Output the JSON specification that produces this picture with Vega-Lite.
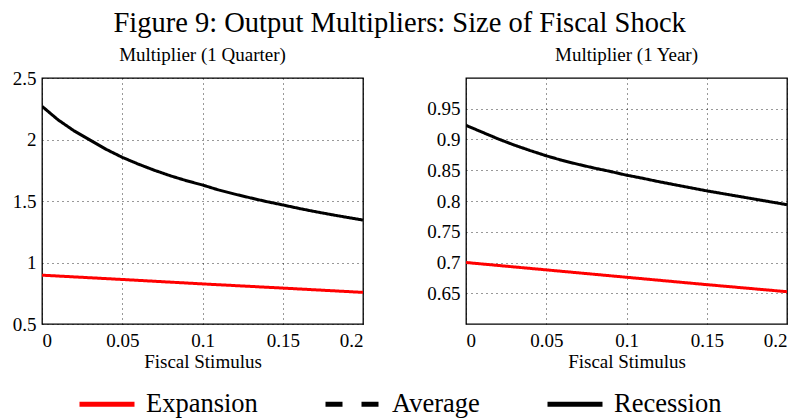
{
  "$schema": "https://vega.github.io/schema/vega-lite/v6.json",
  "padding": {"left": 11, "top": 8, "right": 0, "bottom": 0},
  "background": "white",
  "title": {"text": "Figure 9: Output Multipliers: Size of Fiscal Shock", "anchor": "middle", "fontSize": 28.5, "fontWeight": "normal", "font": "Liberation Serif", "color": "black", "offset": 8},
  "datasets": {
    "quarter": [
      {"regime": "Recession", "x": 0.00, "y": 2.27},
      {"regime": "Recession", "x": 0.01, "y": 2.16},
      {"regime": "Recession", "x": 0.02, "y": 2.07},
      {"regime": "Recession", "x": 0.03, "y": 1.995},
      {"regime": "Recession", "x": 0.04, "y": 1.92},
      {"regime": "Recession", "x": 0.05, "y": 1.855},
      {"regime": "Recession", "x": 0.06, "y": 1.80},
      {"regime": "Recession", "x": 0.07, "y": 1.75},
      {"regime": "Recession", "x": 0.08, "y": 1.705},
      {"regime": "Recession", "x": 0.09, "y": 1.665},
      {"regime": "Recession", "x": 0.10, "y": 1.63},
      {"regime": "Recession", "x": 0.11, "y": 1.59},
      {"regime": "Recession", "x": 0.12, "y": 1.556},
      {"regime": "Recession", "x": 0.13, "y": 1.525},
      {"regime": "Recession", "x": 0.14, "y": 1.495},
      {"regime": "Recession", "x": 0.15, "y": 1.468},
      {"regime": "Recession", "x": 0.16, "y": 1.44},
      {"regime": "Recession", "x": 0.17, "y": 1.414},
      {"regime": "Recession", "x": 0.18, "y": 1.39},
      {"regime": "Recession", "x": 0.19, "y": 1.367},
      {"regime": "Recession", "x": 0.20, "y": 1.345},
      {"regime": "Expansion", "x": 0.00, "y": 0.897},
      {"regime": "Expansion", "x": 0.05, "y": 0.862},
      {"regime": "Expansion", "x": 0.10, "y": 0.826},
      {"regime": "Expansion", "x": 0.15, "y": 0.792},
      {"regime": "Expansion", "x": 0.20, "y": 0.757}
    ],
    "year": [
      {"regime": "Recession", "x": 0.00, "y": 0.923},
      {"regime": "Recession", "x": 0.01, "y": 0.912},
      {"regime": "Recession", "x": 0.02, "y": 0.901},
      {"regime": "Recession", "x": 0.03, "y": 0.891},
      {"regime": "Recession", "x": 0.04, "y": 0.882},
      {"regime": "Recession", "x": 0.05, "y": 0.8735},
      {"regime": "Recession", "x": 0.06, "y": 0.866},
      {"regime": "Recession", "x": 0.07, "y": 0.8595},
      {"regime": "Recession", "x": 0.08, "y": 0.8535},
      {"regime": "Recession", "x": 0.09, "y": 0.848},
      {"regime": "Recession", "x": 0.10, "y": 0.842},
      {"regime": "Recession", "x": 0.11, "y": 0.837},
      {"regime": "Recession", "x": 0.12, "y": 0.8315},
      {"regime": "Recession", "x": 0.13, "y": 0.8265},
      {"regime": "Recession", "x": 0.14, "y": 0.8215},
      {"regime": "Recession", "x": 0.15, "y": 0.8165},
      {"regime": "Recession", "x": 0.16, "y": 0.812},
      {"regime": "Recession", "x": 0.17, "y": 0.8075},
      {"regime": "Recession", "x": 0.18, "y": 0.803},
      {"regime": "Recession", "x": 0.19, "y": 0.7985},
      {"regime": "Recession", "x": 0.20, "y": 0.794},
      {"regime": "Expansion", "x": 0.00, "y": 0.700},
      {"regime": "Expansion", "x": 0.05, "y": 0.688},
      {"regime": "Expansion", "x": 0.10, "y": 0.676},
      {"regime": "Expansion", "x": 0.15, "y": 0.664},
      {"regime": "Expansion", "x": 0.20, "y": 0.6525}
    ]
  },
  "hconcat": [
    {
      "width": 321,
      "height": 246,
      "title": {"text": "Multiplier (1 Quarter)", "offset": 4},
      "data": {"name": "quarter"},
      "mark": {"type": "line", "strokeWidth": 3, "clip": true},
      "encoding": {
        "x": {"field": "x", "type": "quantitative", "scale": {"domain": [0, 0.2], "nice": false}, "axis": {"title": "Fiscal Stimulus", "values": [0, 0.05, 0.1, 0.15, 0.2], "format": "~g"}},
        "y": {"field": "y", "type": "quantitative", "scale": {"domain": [0.5, 2.5], "nice": false, "zero": false}, "axis": {"title": null, "values": [0.5, 1, 1.5, 2, 2.5], "format": "~g"}},
        "color": {"field": "regime", "type": "nominal", "scale": {"domain": ["Expansion", "Average", "Recession"], "range": ["#ff0000", "#000000", "#000000"]}, "legend": {"title": null}},
        "strokeDash": {"field": "regime", "type": "nominal", "scale": {"domain": ["Expansion", "Average", "Recession"], "range": [[1, 0], [17, 19], [1, 0]]}, "legend": {"title": null}}
      }
    },
    {
      "width": 321,
      "height": 246,
      "title": {"text": "Multiplier (1 Year)", "offset": 13},
      "data": {"name": "year"},
      "mark": {"type": "line", "strokeWidth": 3, "clip": true},
      "encoding": {
        "x": {"field": "x", "type": "quantitative", "scale": {"domain": [0, 0.2], "nice": false}, "axis": {"title": "Fiscal Stimulus", "values": [0, 0.05, 0.1, 0.15, 0.2], "format": "~g"}},
        "y": {"field": "y", "type": "quantitative", "scale": {"domain": [0.6, 1.0], "nice": false, "zero": false}, "axis": {"title": null, "values": [0.65, 0.7, 0.75, 0.8, 0.85, 0.9, 0.95], "format": "~g"}},
        "color": {"field": "regime", "type": "nominal", "scale": {"domain": ["Expansion", "Average", "Recession"], "range": ["#ff0000", "#000000", "#000000"]}, "legend": {"title": null}},
        "strokeDash": {"field": "regime", "type": "nominal", "scale": {"domain": ["Expansion", "Average", "Recession"], "range": [[1, 0], [17, 19], [1, 0]]}, "legend": {"title": null}}
      }
    }
  ],
  "spacing": 62,
  "resolve": {
    "scale": {"x": "independent", "y": "independent", "color": "shared", "strokeDash": "shared"},
    "legend": {"color": "shared", "strokeDash": "shared"}
  },
  "config": {
    "font": "Liberation Serif",
    "view": {"stroke": "black", "strokeWidth": 1.3},
    "title": {"font": "Liberation Serif", "fontSize": 19, "fontWeight": "normal", "color": "black"},
    "axis": {
      "domain": false,
      "ticks": false,
      "grid": true,
      "gridColor": "black",
      "gridDash": [1, 4],
      "gridWidth": 1,
      "gridOpacity": 0.8,
      "labelFont": "Liberation Serif",
      "labelFontSize": 19,
      "labelColor": "black",
      "labelPadding": 6,
      "titleFont": "Liberation Serif",
      "titleFontSize": 19,
      "titleFontWeight": "normal",
      "titleColor": "black",
      "titlePadding": 2
    },
    "axisX": {"labelPadding": 7},
    "legend": {
      "orient": "none",
      "legendX": 35,
      "legendY": 296,
      "direction": "horizontal",
      "columns": 3,
      "columnPadding": 57,
      "symbolType": "stroke",
      "symbolSize": 3025,
      "symbolStrokeWidth": 5,
      "labelFont": "Liberation Serif",
      "labelFontSize": 26.5,
      "labelColor": "black",
      "labelOffset": 9,
      "labelLimit": 300
    }
  }
}
